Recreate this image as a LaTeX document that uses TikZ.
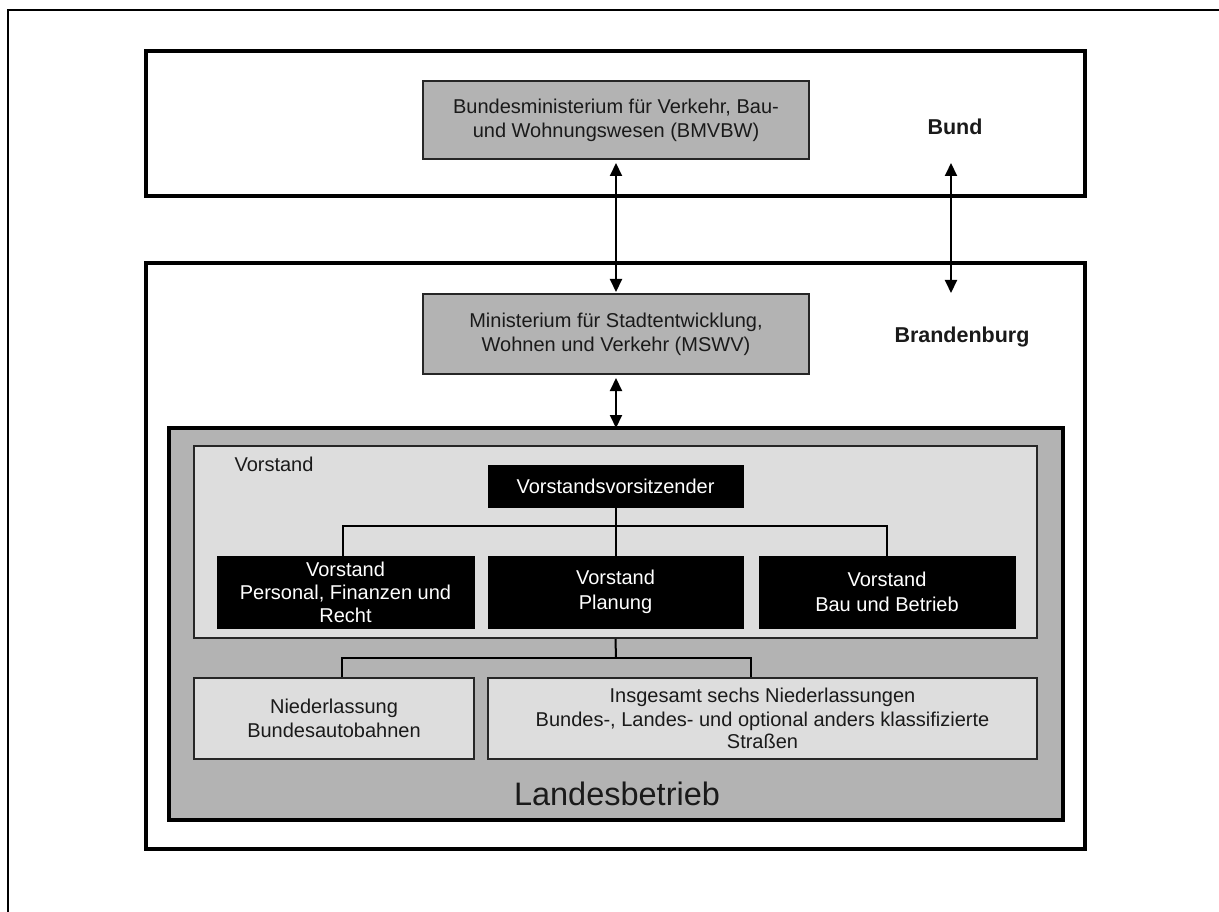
\documentclass[tikz,border=0pt]{standalone}
\usepackage{fontspec}
\setmainfont{Liberation Sans}
\usetikzlibrary{arrows.meta}
\definecolor{midgray}{HTML}{B3B3B3}
\definecolor{lightgray2}{HTML}{DDDDDD}
\definecolor{txt}{HTML}{1A1A1A}
\tikzset{
  txt20/.style={font=\fontsize{20}{24}\selectfont, text=txt, align=center},
  frame/.style={draw=black, line width=4pt, inner sep=0pt},
  graybox/.style={draw=black!85, line width=2pt, fill=midgray, inner sep=0pt, txt20},
  lightbox/.style={draw=black!85, line width=2pt, fill=lightgray2, inner sep=0pt, txt20},
  blackbox/.style={draw=black, fill=black, inner sep=0pt, font=\fontsize{20}{23}\selectfont, text=white, align=center},
  conn/.style={draw=black, line width=2pt},
  dbl/.style={line width=2pt, {Triangle[length=13pt,width=12pt]}-{Triangle[length=13pt,width=12pt]}},
  bold22/.style={font=\fontsize{21.5}{26}\selectfont\bfseries, text=txt}
}
\begin{document}
\begin{tikzpicture}[x=1pt,y=-1pt]
\useasboundingbox (0,0) rectangle (1219,912);
\clip (0,0) rectangle (1219,912);
\fill[white] (0,0) rectangle (1219,912);
% outer frame
\draw[line width=2pt] (8,10) rectangle (1240,940);
% Bund box
\node[frame, minimum width=939pt, minimum height=145pt] (bund) at (615.5,123.5) {};
\node[bold22] (bundlbl) at (955,127) {Bund};
\node[graybox, minimum width=386pt, minimum height=78pt] (bmvbw) at (616,120)
  {Bundesministerium für Verkehr, Bau-\\und Wohnungswesen (BMVBW)};
% Brandenburg box
\node[frame, minimum width=939pt, minimum height=586pt] (brb) at (615.5,556) {};
\node[bold22] (brblbl) at (962,337) {Brandenburg};
\node[graybox, minimum width=386pt, minimum height=80pt] (mswv) at (616,334)
  {Ministerium für Stadtentwicklung,\\Wohnen und Verkehr (MSWV)};
% Landesbetrieb
\node[frame, fill=midgray, minimum width=894pt, minimum height=392pt] (lb) at (616,624) {};
\node[font=\fontsize{32.5}{38}\selectfont, text=txt] (lblbl) at (617,794) {Landesbetrieb};
% Vorstand box
\node[lightbox, minimum width=843pt, minimum height=192pt] (vbox) at (615.5,542) {};
\node[txt20, anchor=west] (vlbl) at (231,464) {Vorstand};
\node[blackbox, minimum width=255pt, minimum height=42pt] (chair) at (615.5,486) {Vorstandsvorsitzender};
\node[blackbox, minimum width=257pt, minimum height=72pt] (va) at (345.5,592) {Vorstand\\Personal, Finanzen und\\Recht};
\node[blackbox, minimum width=255pt, minimum height=72pt] (vb) at (615.5,592) {Vorstand\\[2pt]Planung};
\node[blackbox, minimum width=256pt, minimum height=72pt] (vc) at (887,592) {Vorstand\\[2pt]Bau und Betrieb};
% Niederlassungen
\node[lightbox, minimum width=280pt, minimum height=81pt] (n1) at (334,718.5) {Niederlassung\\Bundesautobahnen};
\node[lightbox, minimum width=549pt, minimum height=81pt] (n2) at (762.5,718.5)
  {Insgesamt sechs Niederlassungen\\Bundes-, Landes- und optional anders klassifizierte\\[-2pt]Straßen};
% arrows
\coordinate (r1) at (951,163);
\coordinate (r2) at (951,293);
\draw[dbl] ([yshift=-3pt]bmvbw.south) -- ([yshift=1pt]mswv.north);
\draw[dbl] (r1) -- (r2);
\draw[dbl] ([yshift=-3pt]mswv.south) -- ([yshift=-2pt]lb.north);
% tree 1
\coordinate (t1) at (616,526);
\draw[conn] (chair.south) -- (vb.north);
\draw[conn] ([xshift=-3pt]va.north) |- (t1) -| (vc.north);
% tree 2
\coordinate (t2) at (616,658);
\draw[conn] (vbox.south) -- (t2);
\draw[conn] ([xshift=8pt]n1.north) |- (t2) -| ([xshift=-12pt]n2.north);
\end{tikzpicture}
\end{document}
